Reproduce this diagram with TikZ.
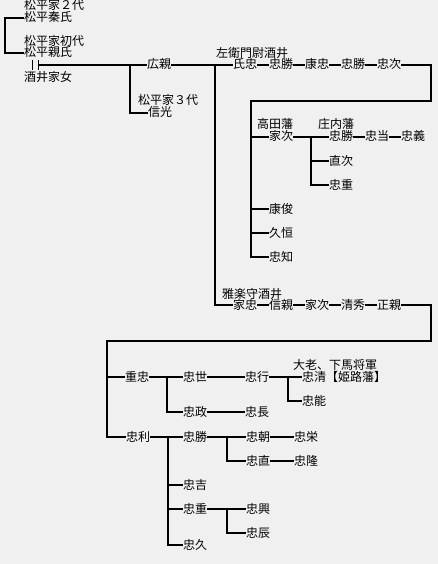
\documentclass[tikz,border=0pt]{standalone}
\usepackage{fontspec}
\newfontfamily\jp{Noto Sans CJK JP}
\definecolor{bg}{HTML}{F0F0F0}
\tikzset{
  nm/.style={anchor=west, inner sep=0pt, text height=10pt, text depth=2pt, font=\jp\fontsize{12}{14}\selectfont},
  ttl/.style={nm},
  ln/.style={line width=2pt},
  bar/.style={line width=1pt}
}
\begin{document}
\begin{tikzpicture}[x=1pt,y=-1pt]
\fill[bg] (0,0) rectangle (438,564);
\useasboundingbox (0,0) rectangle (438,564);
% top
\node[ttl] (t2) at (24,6) {松平家２代};
\node[nm] (yasu) at (24,18) {松平秦氏};
\node[ttl] (t1) at (24,42) {松平家初代};
\node[nm] (chika) at (24,53) {松平親氏};
\node[nm] (sakai) at (24,78) {酒井家女};
\node[nm] (hiro) at (147,65) {広親};
\node[ttl] (t3) at (138,101) {松平家３代};
\node[nm] (nobu) at (148,113) {信光};
\node[ttl] (sae) at (216,54) {左衛門尉酒井};
\node[nm] (uji) at (233,65) {氏忠};
\node[nm] (kc1) at (269,65) {忠勝};
\node[nm] (yasut) at (305,65) {康忠};
\node[nm] (kc2) at (341,65) {忠勝};
\node[nm] (tdtg) at (377,65) {忠次};
% takada
\node[ttl] (taka) at (257,125) {高田藩};
\node[nm] (ietg) at (269,137) {家次};
\node[ttl] (shon) at (318,125) {庄内藩};
\node[nm] (kc3) at (329,137) {忠勝};
\node[nm] (tdzn) at (365,137) {忠当};
\node[nm] (tdys) at (401,137) {忠義};
\node[nm] (naot) at (329,161) {直次};
\node[nm] (tdsg1) at (329,185) {忠重};
\node[nm] (ystt) at (269,209) {康俊};
\node[nm] (hisa) at (269,233) {久恒};
\node[nm] (tdtm) at (269,257) {忠知};
% uta
\node[ttl] (uta) at (222,294) {雅楽守酒井};
\node[nm] (ietd) at (233,305) {家忠};
\node[nm] (nbck) at (269,305) {信親};
\node[nm] (ietg2) at (305,305) {家次};
\node[nm] (kiyo) at (341,305) {清秀};
\node[nm] (masa) at (377,305) {正親};
% lower
\node[nm] (sgtd) at (125,377) {重忠};
\node[nm] (tdyo) at (183,377) {忠世};
\node[nm] (tdyk) at (245,377) {忠行};
\node[ttl] (tairo) at (293,365) {大老、下馬将軍};
\node[nm] (tdkiyo) at (302,377) {忠清【姫路藩】};
\node[nm] (tdno) at (302,401) {忠能};
\node[nm] (tdms) at (183,412) {忠政};
\node[nm] (tdng) at (245,412) {忠長};
\node[nm] (tdts) at (126,437) {忠利};
\node[nm] (kc4) at (183,437) {忠勝};
\node[nm] (tdtm2) at (246,437) {忠朝};
\node[nm] (tdhd) at (294,437) {忠栄};
\node[nm] (tdnao) at (246,461) {忠直};
\node[nm] (tdtk) at (294,461) {忠隆};
\node[nm] (tdyos) at (183,485) {忠吉};
\node[nm] (tdsg2) at (183,509) {忠重};
\node[nm] (tdok) at (246,509) {忠興};
\node[nm] (tdtk2) at (246,533) {忠辰};
\node[nm] (tdhs) at (183,545) {忠久};
% coordinates
\coordinate (m0) at (38,65);
\coordinate (jA) at (130,65);
\coordinate (jB) at (215,65);
\coordinate (c1) at (431,101);
\coordinate (c2) at (251,101);
\coordinate (jD) at (311,137);
\coordinate (c3) at (431,341);
\coordinate (c4) at (107,341);
\coordinate (jE) at (167,377);
\coordinate (jF) at (288,377);
\coordinate (jG) at (168,437);
\coordinate (jH) at (227,437);
\coordinate (jI) at (227,509);
% top bracket
\draw[ln] (yasu.west) -- ++(-19,0) |- (chika.west);
\draw[bar] (32,60) -- (32,70);
\draw[bar] (38,60) -- (38,70);
\draw[ln] (m0) -- (hiro.west);
\draw[ln] (hiro.east) -- (uji.west);
\draw[ln] (jA) |- (nobu.west);
\draw[ln] (uji.east) -- (kc1.west);
\draw[ln] (kc1.east) -- (yasut.west);
\draw[ln] (yasut.east) -- (kc2.west);
\draw[ln] (kc2.east) -- (tdtg.west);
\draw[ln] (tdtg.east) -| (c1) -- (c2) |- (tdtm.west);
\draw[ln] (ietg.west) -- (ietg.west -| c2);
\draw[ln] (ystt.west) -- (ystt.west -| c2);
\draw[ln] (hisa.west) -- (hisa.west -| c2);
\draw[ln] (ietg.east) -- (kc3.west);
\draw[ln] (kc3.east) -- (tdzn.west);
\draw[ln] (tdzn.east) -- (tdys.west);
\draw[ln] (jD) |- (tdsg1.west);
\draw[ln] (naot.west) -- (naot.west -| jD);
% uta line
\draw[ln] (jB) |- (ietd.west);
\draw[ln] (ietd.east) -- (nbck.west);
\draw[ln] (nbck.east) -- (ietg2.west);
\draw[ln] (ietg2.east) -- (kiyo.west);
\draw[ln] (kiyo.east) -- (masa.west);
\draw[ln] (masa.east) -| (c3) -- (c4) |- (tdts.west);
\draw[ln] (sgtd.west) -- (sgtd.west -| c4);
\draw[ln] (sgtd.east) -- (tdyo.west);
\draw[ln] (jE) |- (tdms.west);
\draw[ln] (tdyo.east) -- (tdyk.west);
\draw[ln] (tdms.east) -- (tdng.west);
\draw[ln] (tdyk.east) -- (tdkiyo.west);
\draw[ln] (jF) |- (tdno.west);
\draw[ln] (tdts.east) -- (kc4.west);
\draw[ln] (jG) |- (tdhs.west);
\draw[ln] (tdyos.west) -- (tdyos.west -| jG);
\draw[ln] (tdsg2.west) -- (tdsg2.west -| jG);
\draw[ln] (kc4.east) -- (tdtm2.west);
\draw[ln] (jH) |- (tdnao.west);
\draw[ln] (tdtm2.east) -- (tdhd.west);
\draw[ln] (tdnao.east) -- (tdtk.west);
\draw[ln] (tdsg2.east) -- (tdok.west);
\draw[ln] (jI) |- (tdtk2.west);
\end{tikzpicture}
\end{document}
